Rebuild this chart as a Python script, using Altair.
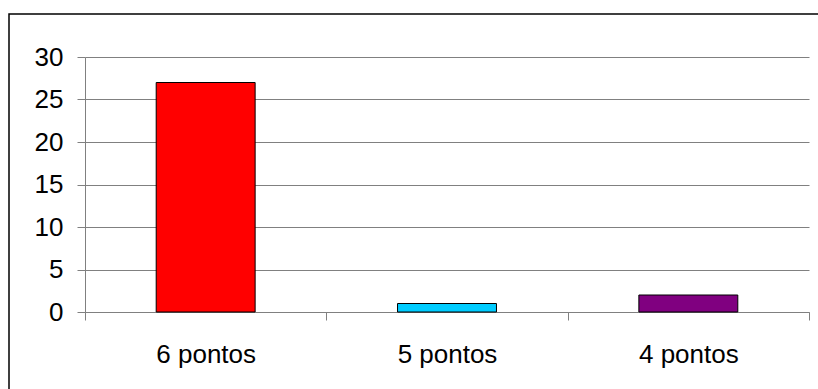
import altair as alt
import pandas as pd

# Pontuação obtida e número de ocorrências
categorias = ["6 pontos", "5 pontos", "4 pontos"]
valores = [27, 1, 2]
cores = ["#FF0000", "#00CCFF", "#800080"]

df = pd.DataFrame({"categoria": categorias, "valor": valores, "cor": cores})

FONT = "Liberation Sans"
FONT_SIZE = 26

bars = alt.Chart(df).mark_bar(
    stroke="#000000", strokeWidth=1, width={"band": 0.41}
).encode(
    x=alt.X(
        "categoria:N",
        sort=categorias,
        scale=alt.Scale(paddingInner=0, paddingOuter=0),
        axis=alt.Axis(
            title=None,
            labelAngle=0,
            tickBand="extent",
            tickSize=8,
            labelPadding=21,
            labelFont=FONT,
            labelFontSize=FONT_SIZE,
            grid=False,
        ),
    ),
    y=alt.Y(
        "valor:Q",
        scale=alt.Scale(domain=[0, 30]),
        axis=alt.Axis(
            title=None,
            values=[0, 5, 10, 15, 20, 25, 30],
            tickSize=8,
            labelPadding=14,
            labelFont=FONT,
            labelFontSize=FONT_SIZE,
            grid=True,
        ),
    ),
    color=alt.Color("cor:N", scale=None, legend=None),
)

# Moldura em volta do gráfico
frame = alt.Chart(pd.DataFrame({"a": [0]})).mark_rect(
    fill=None, stroke="#000000", strokeWidth=1.5, clip=False
).encode(
    x=alt.value(-76), x2=alt.value(760), y=alt.value(-43), y2=alt.value(360)
)

chart = alt.layer(frame, bars).properties(
    width=724,
    height=255,
    padding={"left": 85, "top": 57, "right": 9, "bottom": 77},
    autosize=alt.AutoSizeParams(type="none"),
    background="#FFFFFF",
).configure_view(
    stroke=None
).configure_axis(
    labelColor="#000000",
    domainColor="#808080",
    tickColor="#808080",
    gridColor="#808080",
    domainWidth=1,
    tickWidth=1,
    gridWidth=1,
)

chart.save("out.html", embed_options={"renderer": "svg", "actions": False})
